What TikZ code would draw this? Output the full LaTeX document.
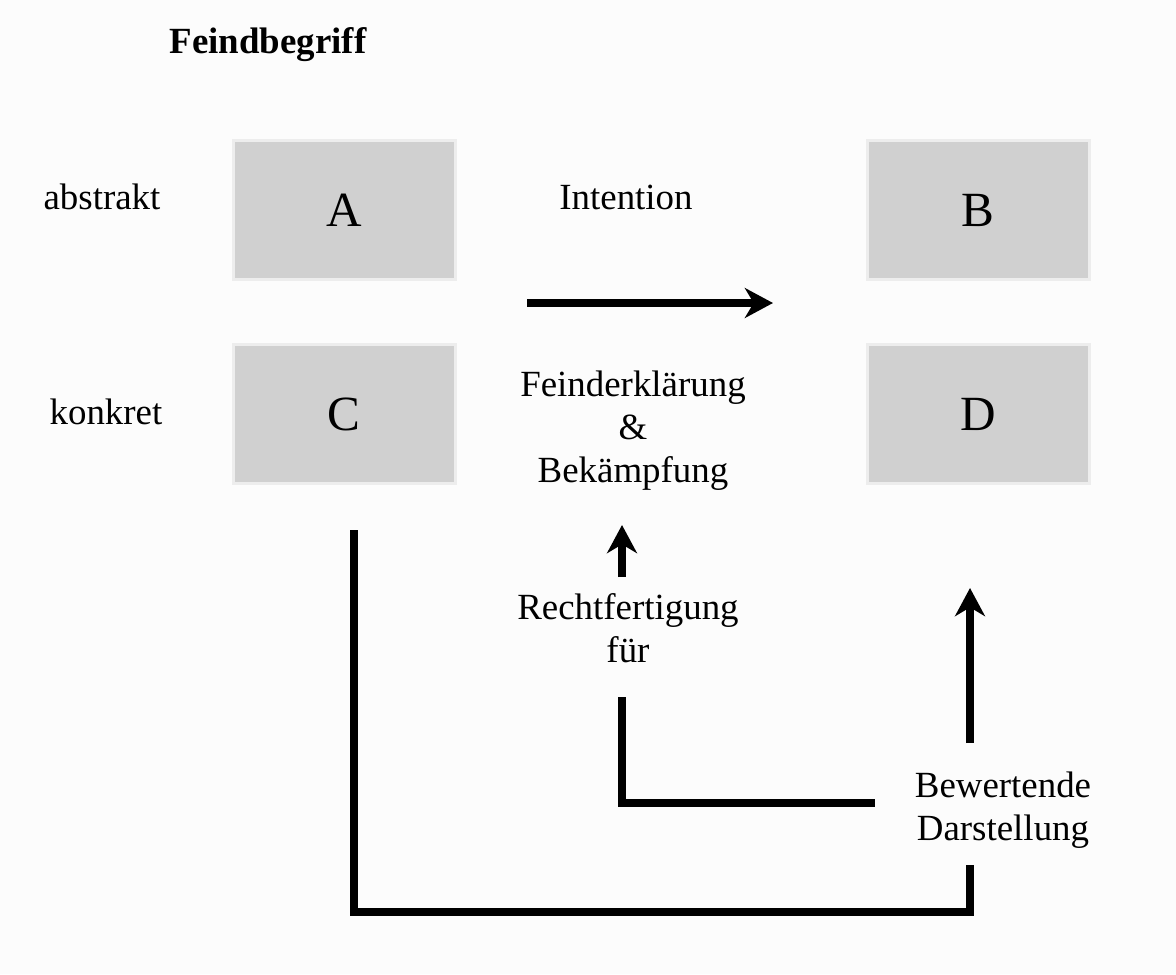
\documentclass[tikz,border=0pt]{standalone}
\usepackage{fontspec}
\setmainfont{Liberation Serif}
\usetikzlibrary{arrows.meta}
\newlength{\du}
\setlength{\du}{0.02cm}
\definecolor{bggray}{rgb}{0.988, 0.988, 0.988}
\definecolor{boxgray}{rgb}{0.816, 0.816, 0.816}
\definecolor{boxedge}{rgb}{0.930, 0.930, 0.930}

\begin{document}
\begin{tikzpicture}[
  letterbox/.style={fill=boxgray, draw=boxedge, line width=3\du, minimum width=222\du, minimum height=139\du, inner sep=0pt, font=\fontsize{28}{32}\selectfont},
  txt/.style={font=\fontsize{21}{24.5}\selectfont, align=center, inner sep=0pt},
  bar/.style={line width=8\du},
  heavy/.style={bar, -{Stealth[length=16pt, width=17pt, inset=5pt]}}
]
\pgftransformxscale{1.000000}
\pgftransformyscale{-1.000000}
% background
\fill[bggray] (0\du,0\du) rectangle (1176\du,974\du);
\useasboundingbox (0\du,0\du) rectangle (1176\du,974\du);
% title and row labels
\node[txt, font=\fontsize{21}{24.5}\selectfont\bfseries] (title) at (268\du,45\du) {Feindbegriff};
\node[txt] (abstrakt) at (102\du,197\du) {abstrakt};
\node[txt] (konkret) at (106\du,412\du) {konkret};
% the four boxes
\node[letterbox] (A) at (344\du,210\du) {A};
\node[letterbox] (B) at (978\du,210\du) {B};
\node[letterbox] (C) at (344\du,414\du) {C};
\node[letterbox] (D) at (978\du,414\du) {D};
% middle texts
\node[txt] (intention) at (626\du,197\du) {Intention};
\node[txt] (erklaerung) at (633\du,431\du) {Feinderklärung\\\&\\Bekämpfung};
\node[txt] (rechtf) at (628\du,628\du) {Rechtfertigung\\für};
\node[txt] (bewertend) at (1003\du,810\du) {Bewertende\\Darstellung};
% free ends of the connectors
\coordinate (h0) at (527\du,303\du);
\coordinate (h1) at (773\du,303\du);
\coordinate (r0) at (622\du,577\du);
\coordinate (r1) at (622\du,525\du);
\coordinate (k0) at (622\du,697\du);
\coordinate (k1) at (875\du,803\du);
\coordinate (d0) at (970\du,743\du);
\coordinate (d1) at (970\du,588\du);
\coordinate (c0) at (354\du,530\du);
\coordinate (c1) at (970\du,912\du);
\coordinate (c2) at (970\du,865\du);
% connectors
\draw[heavy] (h0) -- (h1);
\draw[heavy] (r0) -- (r1);
\draw[bar] (k0) |- (k1);
\draw[heavy] (d0) -- (d1);
\draw[bar] (c0) |- (c1) -- (c2);
\end{tikzpicture}
\end{document}
